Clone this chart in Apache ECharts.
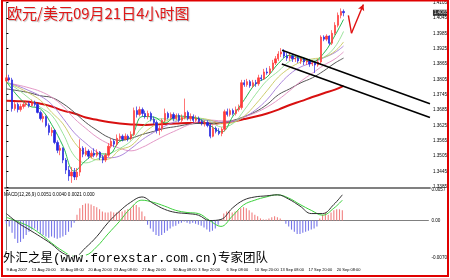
<!DOCTYPE html>
<html><head><meta charset="utf-8">
<script src="https://cdn.jsdelivr.net/npm/echarts@6/dist/echarts.min.js"></script>
<style>html,body{margin:0;padding:0;background:#fff}#c{width:450px;height:278px}</style>
</head><body><div id="c"></div>
<script>
// ---------- data ----------
const slotCount = 150;
const priceTicks = [1.3385,1.3445,1.3505,1.3565,1.3625,1.3685,1.3745,1.3805,1.3865,1.3925,1.3985,1.4045,1.4105];
const macdTicks = [-0.0070, 0, 0.0057];
const tickIdx = [0, 9, 19, 29, 38, 48, 59, 68, 78, 88, 97, 107, 117];
const tickText = ["9 Aug 2007","13 Aug 20:00","16 Aug 08:00","20 Aug 20:00","23 Aug 08:00","27 Aug 20:00","30 Aug 08:00","3 Sep 20:00","6 Sep 08:00","10 Sep 20:00","13 Sep 08:00","17 Sep 20:00","20 Sep 08:00"];

const opens = [1.3799,1.3811,1.3803,1.3691,1.3707,1.3687,1.3699,1.3707,1.3710,1.3703,
1.3714,1.3707,1.3676,1.3652,1.3660,1.3625,1.3598,1.3606,1.3559,1.3528,
1.3536,1.3490,1.3451,1.3428,1.3443,1.3424,1.3443,1.3536,1.3513,1.3525,
1.3505,1.3517,1.3509,1.3521,1.3501,1.3490,1.3509,1.3544,1.3563,1.3552,
1.3575,1.3583,1.3571,1.3583,1.3575,1.3590,1.3683,1.3668,1.3687,1.3672,
1.3660,1.3672,1.3649,1.3637,1.3606,1.3614,1.3645,1.3672,1.3656,1.3668,
1.3652,1.3664,1.3645,1.3656,1.3676,1.3652,1.3660,1.3645,1.3652,1.3641,
1.3633,1.3637,1.3625,1.3583,1.3614,1.3602,1.3594,1.3610,1.3679,1.3668,
1.3683,1.3672,1.3687,1.3695,1.3792,1.3784,1.3796,1.3780,1.3792,1.3788,
1.3811,1.3807,1.3834,1.3830,1.3846,1.3869,1.3885,1.3904,1.3912,1.3896,
1.3888,1.3896,1.3885,1.3888,1.3877,1.3885,1.3873,1.3877,1.3865,1.3869,
1.3861,1.3873,1.3970,1.3962,1.3974,1.3946,1.3985,1.4016,1.4055,1.4070];
const closes = [1.3811,1.3803,1.3691,1.3707,1.3687,1.3699,1.3707,1.3710,1.3703,1.3714,
1.3707,1.3676,1.3652,1.3660,1.3625,1.3598,1.3606,1.3559,1.3528,1.3536,
1.3490,1.3451,1.3428,1.3443,1.3424,1.3443,1.3536,1.3513,1.3525,1.3505,
1.3517,1.3509,1.3521,1.3501,1.3490,1.3509,1.3544,1.3563,1.3552,1.3575,
1.3583,1.3571,1.3583,1.3575,1.3590,1.3683,1.3668,1.3687,1.3672,1.3660,
1.3672,1.3649,1.3637,1.3606,1.3614,1.3645,1.3672,1.3656,1.3668,1.3652,
1.3664,1.3645,1.3656,1.3676,1.3652,1.3660,1.3645,1.3652,1.3641,1.3633,
1.3637,1.3625,1.3583,1.3614,1.3602,1.3594,1.3610,1.3679,1.3668,1.3683,
1.3672,1.3687,1.3695,1.3792,1.3784,1.3796,1.3780,1.3792,1.3788,1.3811,
1.3807,1.3834,1.3830,1.3846,1.3869,1.3885,1.3904,1.3912,1.3896,1.3888,
1.3896,1.3885,1.3888,1.3877,1.3885,1.3873,1.3877,1.3865,1.3869,1.3861,
1.3873,1.3970,1.3962,1.3974,1.3946,1.3985,1.4016,1.4055,1.4070,1.4065];
const highs = [1.3823,1.3823,1.3811,1.3718,1.3714,1.3710,1.3718,1.3722,1.3718,1.3726,
1.3722,1.3714,1.3683,1.3672,1.3664,1.3633,1.3618,1.3610,1.3567,1.3548,
1.3540,1.3498,1.3467,1.3463,1.3459,1.3459,1.3571,1.3544,1.3540,1.3532,
1.3528,1.3536,1.3532,1.3525,1.3509,1.3517,1.3556,1.3575,1.3571,1.3590,
1.3594,1.3590,1.3594,1.3590,1.3602,1.3695,1.3699,1.3699,1.3695,1.3683,
1.3683,1.3679,1.3660,1.3645,1.3625,1.3652,1.3691,1.3679,1.3676,1.3676,
1.3672,1.3672,1.3668,1.3730,1.3683,1.3672,1.3668,1.3664,1.3660,1.3649,
1.3645,1.3645,1.3633,1.3625,1.3621,1.3614,1.3618,1.3687,1.3691,1.3691,
1.3691,1.3699,1.3707,1.3803,1.3803,1.3807,1.3803,1.3803,1.3803,1.3823,
1.3823,1.3846,1.3850,1.3857,1.3881,1.3896,1.3915,1.3927,1.3923,1.3908,
1.3908,1.3904,1.3900,1.3896,1.3892,1.3892,1.3888,1.3885,1.3881,1.3877,
1.3885,1.3977,1.3977,1.3981,1.3977,1.3997,1.4028,1.4066,1.4082,1.4078];
const lows = [1.3792,1.3796,1.3679,1.3683,1.3676,1.3679,1.3691,1.3699,1.3695,1.3699,
1.3699,1.3672,1.3645,1.3637,1.3618,1.3587,1.3583,1.3552,1.3517,1.3509,
1.3478,1.3436,1.3409,1.3401,1.3412,1.3412,1.3428,1.3501,1.3505,1.3494,
1.3498,1.3501,1.3501,1.3490,1.3478,1.3482,1.3501,1.3536,1.3540,1.3544,
1.3567,1.3563,1.3567,1.3563,1.3567,1.3583,1.3656,1.3660,1.3660,1.3652,
1.3649,1.3641,1.3629,1.3594,1.3587,1.3602,1.3637,1.3649,1.3645,1.3641,
1.3645,1.3637,1.3637,1.3649,1.3645,1.3641,1.3637,1.3637,1.3633,1.3625,
1.3621,1.3618,1.3575,1.3579,1.3594,1.3587,1.3583,1.3602,1.3660,1.3660,
1.3664,1.3664,1.3679,1.3687,1.3776,1.3776,1.3772,1.3772,1.3776,1.3780,
1.3799,1.3803,1.3823,1.3823,1.3838,1.3861,1.3877,1.3892,1.3888,1.3877,
1.3877,1.3873,1.3873,1.3869,1.3865,1.3861,1.3861,1.3854,1.3857,1.3830,
1.3854,1.3865,1.3954,1.3954,1.3939,1.3939,1.3977,1.4008,1.4043,1.4051];

// moving averages, read at these bar indices
const maIdx = [0,4,8,12,16,20,24,28,32,36,40,44,48,52,56,60,64,68,72,76,80,84,88,92,96,100,104,108,112,116,119];
const ma5  = [1.3796,1.3740,1.3701,1.3690,1.3628,1.3544,1.3447,1.3488,1.3515,1.3513,1.3563,1.3580,1.3660,1.3658,1.3635,1.3662,1.3659,1.3650,1.3624,1.3600,1.3662,1.3726,1.3788,1.3814,1.3867,1.3899,1.3886,1.3874,1.3907,1.3977,1.4039];
const ma10 = [1.3794,1.3766,1.3731,1.3696,1.3665,1.3593,1.3506,1.3479,1.3494,1.3513,1.3535,1.3565,1.3619,1.3649,1.3651,1.3646,1.3659,1.3654,1.3640,1.3619,1.3633,1.3686,1.3747,1.3801,1.3837,1.3876,1.3892,1.3880,1.3891,1.3932,1.3992];
const ma15 = [1.3793,1.3774,1.3751,1.3723,1.3676,1.3631,1.3559,1.3514,1.3491,1.3494,1.3530,1.3546,1.3590,1.3624,1.3641,1.3655,1.3651,1.3653,1.3646,1.3632,1.3636,1.3662,1.3708,1.3761,1.3814,1.3849,1.3873,1.3885,1.3891,1.3915,1.3951];
const ma20 = [1.3793,1.3779,1.3761,1.3740,1.3707,1.3653,1.3596,1.3556,1.3521,1.3499,1.3506,1.3535,1.3570,1.3598,1.3623,1.3641,1.3657,1.3651,1.3644,1.3638,1.3641,1.3658,1.3686,1.3726,1.3780,1.3825,1.3854,1.3870,1.3889,1.3910,1.3935];
const ma30 = [1.3792,1.3783,1.3772,1.3758,1.3735,1.3700,1.3652,1.3614,1.3579,1.3554,1.3536,1.3526,1.3540,1.3563,1.3586,1.3606,1.3626,1.3640,1.3646,1.3643,1.3643,1.3658,1.3675,1.3697,1.3726,1.3761,1.3798,1.3829,1.3860,1.3885,1.3912];
const maGrey = [1.3768,1.3761,1.3753,1.3741,1.3734,1.3710,1.3676,1.3637,1.3606,1.3579,1.3567,1.3575,1.3590,1.3602,1.3614,1.3621,1.3629,1.3633,1.3633,1.3637,1.3645,1.3660,1.3679,1.3707,1.3745,1.3768,1.3792,1.3811,1.3838,1.3869,1.3888];
const maRed = [1.3722,1.3720,1.3718,1.3710,1.3699,1.3683,1.3672,1.3656,1.3647,1.3639,1.3633,1.3629,1.3627,1.3629,1.3631,1.3633,1.3635,1.3635,1.3633,1.3635,1.3641,1.3650,1.3660,1.3672,1.3687,1.3705,1.3720,1.3736,1.3751,1.3765,1.3780];

// hand-drawn annotations: [bar index, price]
const channelUpper = [[97.3, 1.3919], [149.5, 1.3710]];
const channelLower = [[97.2, 1.3865], [149.5, 1.3656]];
const arrowPath = [[120.7, 1.4055], [121.8, 1.3985], [126.0, 1.4097]];

// MACD
const macdHist = [-0.0006,-0.0011,-0.0023,-0.0034,-0.0042,-0.0040,-0.0034,-0.0027,-0.0021,-0.0017,
-0.0015,-0.0019,-0.0025,-0.0027,-0.0030,-0.0032,-0.0030,-0.0032,-0.0034,-0.0032,
-0.0030,-0.0027,-0.0021,-0.0013,-0.0004,0.0011,0.0023,0.0029,0.0032,0.0032,
0.0030,0.0027,0.0025,0.0021,0.0017,0.0015,0.0015,0.0017,0.0015,0.0015,
0.0017,0.0017,0.0019,0.0021,0.0023,0.0029,0.0029,0.0025,0.0017,0.0008,
-0.0008,-0.0015,-0.0021,-0.0027,-0.0029,-0.0027,-0.0023,-0.0019,-0.0015,-0.0011,
-0.0010,-0.0006,-0.0004,-0.0002,-0.0004,-0.0006,-0.0004,-0.0006,-0.0008,-0.0010,
-0.0013,-0.0017,-0.0021,-0.0019,-0.0015,-0.0008,0.0002,0.0013,0.0017,0.0017,
0.0015,0.0017,0.0019,0.0023,0.0025,0.0023,0.0019,0.0015,0.0011,0.0008,
0.0004,0.0002,0.0002,0.0004,0.0006,0.0008,0.0006,0.0004,0.0001,-0.0006,
-0.0011,-0.0017,-0.0021,-0.0025,-0.0025,-0.0023,-0.0021,-0.0019,-0.0017,-0.0015,
-0.0011,0.0004,0.0011,0.0015,0.0011,0.0015,0.0019,0.0021,0.0021,0.0019];
const macdMain = [0.0013,-0.0004,-0.0017,-0.0030,-0.0044,-0.0061,-0.0068,-0.0051,-0.0030,-0.0004,0.0017,0.0034,0.0044,0.0032,0.0021,0.0015,0.0013,0.0010,0.0000,0.0002,0.0023,0.0038,0.0044,0.0046,0.0048,0.0040,0.0027,0.0013,0.0013,0.0030,0.0048];
const macdSignal = [0.0006,-0.0002,-0.0011,-0.0025,-0.0042,-0.0057,-0.0067,-0.0065,-0.0049,-0.0025,-0.0002,0.0023,0.0038,0.0034,0.0027,0.0019,0.0015,0.0013,0.0000,-0.0011,0.0008,0.0029,0.0038,0.0044,0.0048,0.0042,0.0030,0.0019,0.0010,0.0023,0.0038];

const titleText = '欧元/美元09月21日4小时图';
const macdTitle = 'MACD(12,26,9) 0.0051 0.0040 0.0021 0.000';
const watermark = '外汇之星(www.forexstar.com.cn)专家团队';

// ---------- chart ----------
const slots = Array.from({length: slotCount}, (_, i) => String(i));
const candleData = opens.map((o, i) => [o, closes[i], lows[i], highs[i]]);
const pairs = (idx, vals) => idx.map((x, k) => [x, vals[k]]);
const tickMap = {};
tickIdx.forEach((x, k) => { tickMap[x] = tickText[k]; });
const small = 'Liberation Sans';
const lastClose = closes[closes.length - 1];

const maLine = (vals, color, width) => ({
  type: 'line', xAxisIndex: 1, yAxisIndex: 0, data: pairs(maIdx, vals),
  smooth: 0.4, showSymbol: false, symbol: 'none', z: 2, silent: true,
  lineStyle: {color: color, width: width}
});

const chart = echarts.init(document.getElementById('c'), null, {renderer: 'canvas'});
chart.setOption({
  animation: false,
  backgroundColor: '#ffffff',
  grid: [
    {left: 5, right: 19, top: 1, height: 187},
    {left: 5, right: 19, top: 190, height: 68}
  ],
  xAxis: [
    {type: 'category', gridIndex: 0, data: slots, boundaryGap: true,
     axisLine: {show: true, lineStyle: {color: '#808080', width: 2}},
     axisTick: {show: false}, axisLabel: {show: false}, splitLine: {show: false}},
    {type: 'value', gridIndex: 0, min: -0.5, max: slotCount - 0.5, show: false},
    {type: 'category', gridIndex: 1, data: slots, boundaryGap: true,
     axisLine: {show: true, lineStyle: {color: '#808080', width: 1}},
     axisTick: {show: false}, splitLine: {show: false},
     axisLabel: {interval: (i) => tickMap[i] !== undefined,
                 formatter: (v) => tickMap[Number(v)] || '',
                 fontSize: 4, fontFamily: small, color: '#000', margin: 10, align: 'left'}},
    {type: 'value', gridIndex: 1, min: -0.5, max: slotCount - 0.5, show: false}
  ],
  yAxis: [
    {type: 'value', gridIndex: 0, position: 'right', min: 1.3381, max: 1.4105,
     axisLine: {show: true, lineStyle: {color: '#808080', width: 1}},
     axisTick: {show: true, length: 2, customValues: priceTicks, lineStyle: {color: '#000'}},
     axisLabel: {customValues: priceTicks, formatter: (v) => v.toFixed(4),
                 fontSize: 4.6, fontFamily: small, color: '#000', margin: 3},
     splitLine: {show: false}},
    {type: 'value', gridIndex: 1, position: 'right', min: -0.0070, max: 0.0057,
     axisLine: {show: true, lineStyle: {color: '#808080', width: 1}},
     axisTick: {show: true, length: 2, customValues: macdTicks, lineStyle: {color: '#000'}},
     axisLabel: {customValues: macdTicks, formatter: (v) => (v === 0 ? '0.00' : v.toFixed(4)),
                 fontSize: 4.6, fontFamily: small, color: '#000', margin: 3},
     splitLine: {show: false}}
  ],
  series: [
    maLine(maRed, '#d81010', 2),
    maLine(maGrey, '#555555', 1),
    maLine(ma30, '#e08cc0', 0.9),
    maLine(ma20, '#a47ad8', 0.9),
    maLine(ma15, '#c8c860', 0.9),
    maLine(ma10, '#90e090', 0.9),
    maLine(ma5, '#10b040', 0.9),
    {type: 'candlestick', xAxisIndex: 0, yAxisIndex: 0, data: candleData, z: 4,
     barWidth: 1.7, silent: true,
     itemStyle: {color: '#ff3a3a', color0: '#2424e0', borderColor: '#ff3a3a', borderColor0: '#2424e0', borderWidth: 0.7}},
    {type: 'scatter', xAxisIndex: 1, yAxisIndex: 0, data: [[slotCount - 0.5, lastClose]], symbolSize: 0, clip: false, z: 10, silent: true,
     label: {show: true, position: 'right', distance: 3, formatter: (p) => p.value[1].toFixed(4),
             backgroundColor: '#000000', color: '#ffffff', fontSize: 4.6, fontFamily: small, padding: [1, 1, 0, 1]}},
    {type: 'line', xAxisIndex: 1, yAxisIndex: 0, data: channelUpper, showSymbol: false, symbol: 'none', z: 5,
     lineStyle: {color: '#000', width: 1.6}},
    {type: 'line', xAxisIndex: 1, yAxisIndex: 0, data: channelLower, showSymbol: false, symbol: 'none', z: 5,
     lineStyle: {color: '#000', width: 1.6}},
    {type: 'line', xAxisIndex: 1, yAxisIndex: 0, data: arrowPath.slice(0, 2), showSymbol: false, symbol: 'none', z: 5,
     lineStyle: {color: '#e01010', width: 1.4},
     markLine: {silent: true, symbol: ['none', 'arrow'], symbolSize: [5, 6],
                lineStyle: {color: '#e01010', width: 1.4, type: 'solid'}, label: {show: false},
                data: [[{coord: arrowPath[1]}, {coord: arrowPath[2]}]]}},
    {type: 'bar', xAxisIndex: 2, yAxisIndex: 1, data: macdHist, barWidth: 1.1, silent: true,
     itemStyle: {color: (p) => (p.value >= 0 ? '#f08080' : '#7676ea')}},
    {type: 'line', xAxisIndex: 3, yAxisIndex: 1, data: pairs(maIdx, macdSignal), smooth: 0.4, showSymbol: false, symbol: 'none',
     lineStyle: {color: '#3cd03c', width: 1}},
    {type: 'line', xAxisIndex: 3, yAxisIndex: 1, data: pairs(maIdx, macdMain), smooth: 0.4, showSymbol: false, symbol: 'none',
     lineStyle: {color: '#303030', width: 1}}
  ],
  graphic: [
    {type: 'text', left: 7, top: 6, z: 100,
     style: {text: titleText, fill: '#e01818', font: '15px "Noto Sans CJK SC"',
             textShadowColor: 'rgba(0,0,0,0.25)', textShadowOffsetX: 1, textShadowOffsetY: 1, textShadowBlur: 1}},
    {type: 'text', left: 4, top: 192, z: 100,
     style: {text: macdTitle, fill: '#000', font: '4.6px "Liberation Sans"'}},
    {type: 'text', left: 3, top: 252, z: 100,
     style: {text: watermark, fill: '#fff', stroke: '#fff', lineWidth: 3, font: '12.5px "Liberation Mono", "Noto Sans CJK SC"'}},
    {type: 'text', left: 3, top: 252, z: 101,
     style: {text: watermark, fill: '#000', font: '12.5px "Liberation Mono", "Noto Sans CJK SC"'}},
    {type: 'rect', z: 200, silent: true, shape: {x: 2, y: 0.5, width: 446, height: 275.5},
     style: {fill: 'none', stroke: '#e00000', lineWidth: 2}}
  ]
});
</script></body></html>
